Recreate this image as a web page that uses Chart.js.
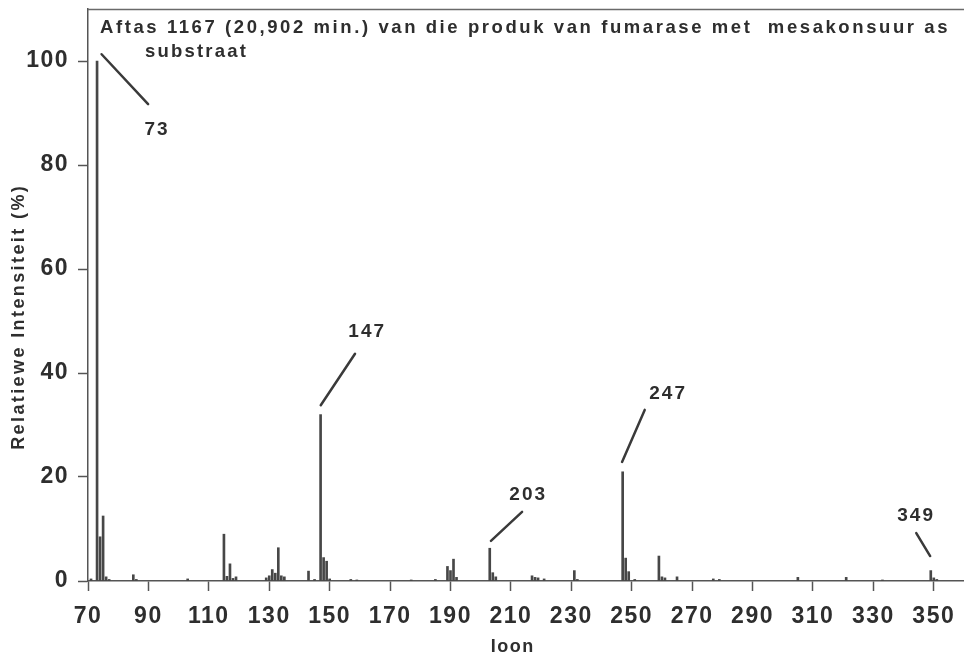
<!DOCTYPE html>
<html>
<head>
<meta charset="utf-8">
<script src="https://cdn.jsdelivr.net/npm/chart.js@4.4.1/dist/chart.umd.min.js"></script>
<style>
  html, body { margin: 0; padding: 0; background: #ffffff; }
  #wrap { width: 964px; height: 658px; position: relative; }
</style>
</head>
<body>
<div id="wrap"><canvas id="c"></canvas></div>
<script>
// ---- data ----
const mz = [71, 73, 74, 75, 76, 77, 85, 86, 103,
  115, 116, 117, 118, 119, 129, 130, 131, 132, 133, 134, 135,
  143, 145, 147, 148, 149, 150, 157, 159, 177, 185,
  189, 190, 191, 192, 203, 204, 205, 217, 218, 219, 221,
  231, 232, 247, 248, 249, 251, 259, 260, 261, 265, 277, 279,
  305, 321, 333, 349, 350, 351];
const intensity = [0.4, 100, 8.5, 12.5, 0.8, 0.3, 1.2, 0.3, 0.4,
  9.0, 0.9, 3.3, 0.5, 0.8, 0.6, 1.0, 2.2, 1.5, 6.4, 1.0, 0.8,
  1.9, 0.3, 32, 4.5, 3.8, 0.4, 0.3, 0.2, 0.2, 0.3,
  2.8, 2.0, 4.2, 0.7, 6.3, 1.6, 0.8, 1.0, 0.7, 0.6, 0.4,
  2.0, 0.3, 21, 4.4, 1.8, 0.3, 4.8, 0.8, 0.6, 0.8, 0.4, 0.3,
  0.7, 0.7, 0.2, 2.0, 0.6, 0.3];
const xTicks = [70, 90, 110, 130, 150, 170, 190, 210, 230, 250, 270, 290, 310, 330, 350];
const yTicks = [0, 20, 40, 60, 80, 100];
const peakLabels = ['73', '147', '203', '247', '349'];
const titleLine1 = 'Aftas 1167 (20,902 min.) van die produk van fumarase met  mesakonsuur as';
const titleLine2 = 'substraat';
const xTitle = 'Ioon';
const yTitle = 'Relatiewe Intensiteit (%)';

// ---- annotation leader geometry (data units), separate from the data ----
const leaderGeom = [
  { x1: 74.5, y1: 101.3, x2: 89.9, y2: 91.7, lx: 92.5, ly: 86.7 },
  { x1: 147.05, y1: 33.8, x2: 158.4, y2: 43.7, lx: 162.1, ly: 47.9 },
  { x1: 203.4, y1: 7.7, x2: 213.7, y2: 13.3, lx: 215.4, ly: 16.5 },
  { x1: 246.8, y1: 22.9, x2: 254.3, y2: 32.9, lx: 261.7, ly: 36.0 },
  { x1: 348.8, y1: 4.8, x2: 344.2, y2: 9.2, lx: 343.8, ly: 12.5 }
];

const FONT = '"Liberation Sans", Arial, Helvetica, sans-serif';
const INK = '#2e2e2e';

function spacedText(ctx, text, x, y, font, targetWidth, align) {
  ctx.font = font;
  ctx.letterSpacing = '0px';
  const w0 = ctx.measureText(text).width;
  const ls = targetWidth ? (targetWidth - w0) / text.length : 0;
  ctx.letterSpacing = ls + 'px';
  const w = w0 + ls * text.length - ls;
  let sx = x;
  if (align === 'center') sx = x - w / 2;
  ctx.textAlign = 'left';
  ctx.fillText(text, sx, y);
  ctx.letterSpacing = '0px';
}

const decor = {
  id: 'decor',
  beforeDraw(chart) {
    chart.ctx.letterSpacing = '1.5px';
  },
  afterDraw(chart) {
    const { ctx, chartArea: a, scales: { x, y } } = chart;
    ctx.save();
    ctx.letterSpacing = '0px';
    // top frame line
    ctx.strokeStyle = '#6a6a6a';
    ctx.lineWidth = 1.5;
    ctx.beginPath();
    ctx.moveTo(a.left, a.top + 0.5);
    ctx.lineTo(a.right, a.top + 0.5);
    ctx.stroke();

    // leader lines + peak labels
    ctx.strokeStyle = '#3a3a3a';
    ctx.lineWidth = 2.5;
    ctx.lineCap = 'round';
    ctx.fillStyle = INK;
    ctx.textBaseline = 'middle';
    leaderGeom.forEach((g, i) => {
      ctx.beginPath();
      ctx.moveTo(x.getPixelForValue(g.x1), y.getPixelForValue(g.y1));
      ctx.lineTo(x.getPixelForValue(g.x2), y.getPixelForValue(g.y2));
      ctx.stroke();
      const t = peakLabels[i];
      spacedText(ctx, t, x.getPixelForValue(g.lx), y.getPixelForValue(g.ly),
        'bold 19px ' + FONT, t.length * 12.6, 'center');
    });

    // title inside plot
    ctx.textBaseline = 'middle';
    spacedText(ctx, titleLine1, a.left + 12, a.top + 19, 'bold 18.5px ' + FONT, 850, 'left');
    spacedText(ctx, titleLine2, a.left + 57, a.top + 43, 'bold 18.5px ' + FONT, 103, 'left');

    // axis titles
    spacedText(ctx, xTitle, (a.left + a.right) / 2 - 14, 647, 'bold 18px ' + FONT, 44, 'center');
    ctx.save();
    ctx.translate(19, 318);
    ctx.rotate(-Math.PI / 2);
    spacedText(ctx, yTitle, 0, 0, 'bold 18px ' + FONT, 266, 'center');
    ctx.restore();
    ctx.restore();
  }
};

const ctx = document.getElementById('c').getContext('2d');
new Chart(ctx, {
  type: 'bar',
  data: {
    datasets: [{
      data: mz.map((m, i) => ({ x: m, y: intensity[i] })),
      backgroundColor: '#474747',
      borderWidth: 0,
      barThickness: 2,
      grouped: false
    }]
  },
  options: {
    responsive: true,
    maintainAspectRatio: false,
    animation: false,
    events: [],
    layout: { padding: { top: 9, right: 0, left: 0, bottom: 0 } },
    plugins: { legend: { display: false }, tooltip: { enabled: false }, title: { display: false } },
    scales: {
      x: {
        type: 'linear',
        min: 70,
        max: 360,
        offset: false,
        afterBuildTicks: (s) => { s.ticks = xTicks.map(v => ({ value: v })); },
        afterFit: (s) => { s.height = 77; s.paddingLeft = 0; s.paddingRight = 0; },
        grid: { offset: false, drawOnChartArea: false, drawTicks: true, tickLength: 10, tickColor: '#555', tickWidth: 1.5 },
        border: { display: true, color: '#555', width: 1.5 },
        ticks: {
          autoSkip: false, maxRotation: 0, padding: 12, color: INK,
          font: { family: FONT, size: 23, weight: 'bold' },
          callback: (v) => String(v)
        }
      },
      y: {
        type: 'linear',
        min: 0,
        max: 110,
        afterBuildTicks: (s) => { s.ticks = yTicks.map(v => ({ value: v })); },
        afterFit: (s) => { s.width = 88; s.paddingTop = 0; s.paddingBottom = 0; },
        grid: { drawOnChartArea: false, drawTicks: true, tickLength: 10, tickColor: '#555', tickWidth: 1.5 },
        border: { display: true, color: '#555', width: 1.5 },
        ticks: {
          autoSkip: false, padding: 9, color: INK,
          font: { family: FONT, size: 23, weight: 'bold' },
          callback: (v) => String(v)
        }
      }
    }
  },
  plugins: [decor]
});
</script>
</body>
</html>
